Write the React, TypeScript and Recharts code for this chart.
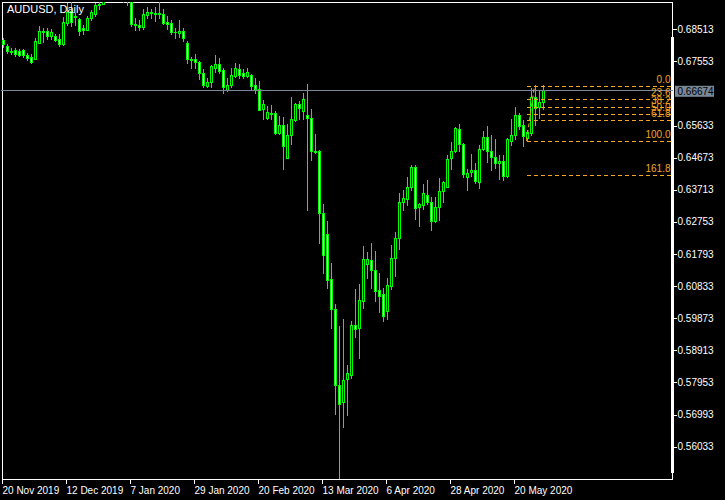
import React from 'react';
import { ComposedChart, Bar, XAxis, YAxis, ReferenceLine } from 'recharts';

// AUDUSD daily bars, 20 Nov 2019 .. 29 May 2020
const opens = [
  0.6819, 0.6799, 0.6784, 0.6787, 0.6786, 0.6787, 0.6774, 0.6768, 0.6763, 0.6811,
  0.6845, 0.6844, 0.6829, 0.6831, 0.6821, 0.6806, 0.6869, 0.6904, 0.6886, 0.6882,
  0.6854, 0.6849, 0.6882, 0.6894, 0.6923, 0.6926, 0.6950, 0.6982, 0.6998, 0.7019,
  0.6988, 0.6955, 0.6940, 0.6865, 0.6864, 0.6857, 0.6894, 0.6902, 0.6900, 0.6899,
  0.6897, 0.6873, 0.6869, 0.6842, 0.6839, 0.6846, 0.6809, 0.6761, 0.6760, 0.6751,
  0.6720, 0.6680, 0.6690, 0.6733, 0.6745, 0.6727, 0.6667, 0.6682, 0.6710, 0.6732,
  0.6718, 0.6710, 0.6712, 0.6682, 0.6672, 0.6610, 0.6583, 0.6601, 0.6600, 0.6540,
  0.6565, 0.6467, 0.6533, 0.6578, 0.6625, 0.6605, 0.6595, 0.6585, 0.6487, 0.6487,
  0.6301, 0.6239, 0.6102, 0.6012, 0.5785, 0.5733, 0.5803, 0.5818, 0.5965, 0.5954,
  0.6037, 0.6149, 0.6159, 0.6130, 0.6069, 0.6057, 0.6007, 0.6082, 0.6167, 0.6226,
  0.6333, 0.6344, 0.6379, 0.6439, 0.6316, 0.6326, 0.6354, 0.6334, 0.6276, 0.6319,
  0.6366, 0.6379, 0.6463, 0.6485, 0.6552, 0.6508, 0.6409, 0.6421, 0.6428, 0.6394,
  0.6493, 0.6528, 0.6487, 0.6469, 0.6451, 0.6457, 0.6413, 0.6517, 0.6535, 0.6595,
  0.6565, 0.6525, 0.6540, 0.6648, 0.6618, 0.6633,
];
const highs = [
  0.6825, 0.6806, 0.6794, 0.6794, 0.6792, 0.6792, 0.6780, 0.6777, 0.6824, 0.6861,
  0.6854, 0.6854, 0.6851, 0.6837, 0.6836, 0.6887, 0.6929, 0.6945, 0.6899, 0.6884,
  0.6864, 0.6889, 0.6906, 0.6929, 0.6931, 0.6955, 0.6990, 0.7005, 0.7032, 0.7031,
  0.6995, 0.6972, 0.6955, 0.6884, 0.6879, 0.6909, 0.6917, 0.6909, 0.6917, 0.6931,
  0.6909, 0.6889, 0.6879, 0.6854, 0.6879, 0.6854, 0.6816, 0.6768, 0.6777, 0.6754,
  0.6730, 0.6705, 0.6742, 0.6774, 0.6765, 0.6735, 0.6705, 0.6735, 0.6750, 0.6745,
  0.6730, 0.6733, 0.6717, 0.6705, 0.6695, 0.6638, 0.6620, 0.6622, 0.6605, 0.6592,
  0.6588, 0.6568, 0.6647, 0.6628, 0.6635, 0.6658, 0.6685, 0.6612, 0.6538, 0.6490,
  0.6326, 0.6278, 0.6150, 0.6027, 0.5964, 0.5985, 0.5846, 0.5979, 0.6072, 0.6087,
  0.6201, 0.6183, 0.6211, 0.6186, 0.6120, 0.6075, 0.6105, 0.6206, 0.6244, 0.6361,
  0.6368, 0.6409, 0.6443, 0.6443, 0.6331, 0.6386, 0.6398, 0.6348, 0.6349, 0.6406,
  0.6396, 0.6473, 0.6513, 0.6558, 0.6568, 0.6510, 0.6433, 0.6476, 0.6451, 0.6505,
  0.6547, 0.6562, 0.6535, 0.6522, 0.6473, 0.6473, 0.6525, 0.6582, 0.6617, 0.6600,
  0.6580, 0.6550, 0.6675, 0.6682, 0.6665, 0.6682,
];
const lows = [
  0.6798, 0.6780, 0.6777, 0.6769, 0.6769, 0.6768, 0.6757, 0.6750, 0.6760, 0.6809,
  0.6811, 0.6821, 0.6821, 0.6816, 0.6799, 0.6802, 0.6864, 0.6861, 0.6862, 0.6834,
  0.6835, 0.6847, 0.6877, 0.6889, 0.6911, 0.6924, 0.6945, 0.6968, 0.6985, 0.6980,
  0.6930, 0.6921, 0.6859, 0.6847, 0.6847, 0.6851, 0.6884, 0.6884, 0.6874, 0.6884,
  0.6867, 0.6851, 0.6837, 0.6824, 0.6828, 0.6814, 0.6750, 0.6735, 0.6735, 0.6700,
  0.6678, 0.6678, 0.6678, 0.6722, 0.6720, 0.6660, 0.6665, 0.6678, 0.6708, 0.6703,
  0.6705, 0.6708, 0.6670, 0.6660, 0.6608, 0.6583, 0.6581, 0.6583, 0.6538, 0.6538,
  0.6431, 0.6466, 0.6508, 0.6575, 0.6582, 0.6582, 0.6309, 0.6458, 0.6481, 0.6211,
  0.6122, 0.6077, 0.5957, 0.5700, 0.5507, 0.5660, 0.5696, 0.5806, 0.5929, 0.5866,
  0.6017, 0.6107, 0.6075, 0.6037, 0.6004, 0.5977, 0.5984, 0.6072, 0.6112, 0.6193,
  0.6309, 0.6324, 0.6369, 0.6283, 0.6261, 0.6313, 0.6326, 0.6249, 0.6273, 0.6279,
  0.6333, 0.6377, 0.6431, 0.6482, 0.6487, 0.6408, 0.6369, 0.6412, 0.6391, 0.6374,
  0.6488, 0.6452, 0.6429, 0.6434, 0.6403, 0.6399, 0.6409, 0.6505, 0.6522, 0.6552,
  0.6502, 0.6516, 0.6535, 0.6565, 0.6585, 0.6610,
];
const closes = [
  0.6807, 0.6783, 0.6782, 0.6774, 0.6774, 0.6772, 0.6765, 0.6753, 0.6816, 0.6846,
  0.6842, 0.6829, 0.6841, 0.6819, 0.6806, 0.6872, 0.6901, 0.6871, 0.6889, 0.6847,
  0.6849, 0.6884, 0.6901, 0.6921, 0.6925, 0.6950, 0.6982, 0.6998, 0.7019, 0.6988,
  0.6958, 0.6940, 0.6866, 0.6867, 0.6857, 0.6897, 0.6902, 0.6900, 0.6898, 0.6896,
  0.6869, 0.6868, 0.6841, 0.6841, 0.6846, 0.6824, 0.6760, 0.6759, 0.6751, 0.6718,
  0.6683, 0.6692, 0.6739, 0.6745, 0.6725, 0.6675, 0.6683, 0.6712, 0.6735, 0.6715,
  0.6710, 0.6722, 0.6680, 0.6670, 0.6610, 0.6625, 0.6602, 0.6599, 0.6540, 0.6565,
  0.6503, 0.6535, 0.6582, 0.6625, 0.6612, 0.6642, 0.6585, 0.6485, 0.6485, 0.6301,
  0.6174, 0.6102, 0.6012, 0.5785, 0.5728, 0.5800, 0.5821, 0.5967, 0.5952, 0.6039,
  0.6164, 0.6164, 0.6130, 0.6067, 0.6052, 0.5992, 0.6084, 0.6167, 0.6226, 0.6334,
  0.6344, 0.6379, 0.6439, 0.6316, 0.6326, 0.6361, 0.6334, 0.6278, 0.6319, 0.6366,
  0.6394, 0.6463, 0.6485, 0.6555, 0.6507, 0.6418, 0.6421, 0.6428, 0.6394, 0.6493,
  0.6528, 0.6487, 0.6469, 0.6451, 0.6457, 0.6413, 0.6523, 0.6535, 0.6595, 0.6563,
  0.6532, 0.6542, 0.6648, 0.6615, 0.6633, 0.66674,
];

const dateLabels = [
  '20 Nov 2019', '12 Dec 2019', '7 Jan 2020', '29 Jan 2020', '20 Feb 2020',
  '13 Mar 2020', '6 Apr 2020', '28 Apr 2020', '20 May 2020',
];
const barsPerLabel = 16;
const totalSlots = 168; // includes empty space on the right (chart shift)

const priceTicks = [
  0.68513, 0.67553, 0.65633, 0.64673, 0.63713, 0.62753, 0.61793,
  0.60833, 0.59873, 0.58913, 0.57953, 0.56993, 0.56033,
];
const priceDomain = [0.55067, 0.69329];

// Fibonacci retracement
const fibHigh = 0.6682;
const fibLow = 0.6517;
const fibFromBar = 131;
const fibToBar = 133;
const fibLevels = [0, 23.6, 38.2, 50, 61.8, 100, 161.8];

const FONT = "'Liberation Sans', Arial, sans-serif";
const CANDLE = '#00ff00';
const FIB = '#f5a623';
const BID = '#778899';

const data = Array.from({ length: totalSlots }, (_, i) =>
  i < closes.length
    ? { i, o: opens[i], h: highs[i], l: lows[i], c: closes[i], range: [lows[i], highs[i]] }
    : { i }
);

const bid = closes[closes.length - 1];

const Candle = (props: any) => {
  const { x, y, width, height, payload } = props;
  if (!payload || payload.o == null) return null;
  const { o, h, l, c } = payload;
  const top = Math.min(y, y + height);
  const bottom = Math.max(y, y + height);
  const k = (bottom - top) / (h - l);
  const py = (v: number) => top + (h - v) * k;
  const cx = Math.floor(x + width / 2) + 0.5;
  const bTop = py(Math.max(o, c));
  const bBot = py(Math.min(o, c));
  const bull = c >= o;
  const yt = Math.floor(bTop) + 0.5;
  const bh = Math.round(bBot - bTop);
  return (
    <g shapeRendering="crispEdges">
      <line x1={cx} x2={cx} y1={Math.floor(py(h))} y2={Math.ceil(py(l))} stroke={CANDLE} />
      {bh < 1 ? (
        <line x1={cx - 1.5} x2={cx + 1.5} y1={yt} y2={yt} stroke={CANDLE} />
      ) : (
        <rect x={cx - 1} y={yt} width={2} height={bh} fill={bull ? '#000' : '#fff'} stroke={CANDLE} />
      )}
    </g>
  );
};

const PriceTick = (props: any) => {
  const { x, y, payload } = props;
  return (
    <g>
      <line x1={x} x2={x + 4} y1={Math.round(y) + 0.5} y2={Math.round(y) + 0.5} stroke="#fff" shapeRendering="crispEdges" />
      <text x={x + 5} y={y + 3.5} fill="#fff" fontSize={10} fontFamily={FONT}>
        {payload.value.toFixed(5)}
      </text>
    </g>
  );
};

const DateTick = (props: any) => {
  const { x, y, payload } = props;
  const idx = payload.value;
  if (idx % barsPerLabel !== 0 || !dateLabels[idx / barsPerLabel]) return <g />;
  return (
    <g>
      <line x1={x} x2={x} y1={y} y2={y + 5} stroke="#fff" shapeRendering="crispEdges" />
      <text x={x} y={y + 15} fill="#fff" fontSize={10} fontFamily={FONT}>
        {dateLabels[idx / barsPerLabel]}
      </text>
    </g>
  );
};

const fibLabel = (text: string) => (props: any) => {
  const vb = props.viewBox;
  return (
    <text x={vb.x + vb.width} y={vb.y - 3} textAnchor="end" fill={FIB} fontSize={10} fontFamily={FONT}>
      {text}
    </text>
  );
};

const fibLine = (props: any) => (
  <line
    x1={props.x1}
    y1={Math.round(props.y1) + 0.5}
    x2={props.x2 + 1.5}
    y2={Math.round(props.y2) + 0.5}
    stroke={FIB}
    strokeWidth={1}
    strokeDasharray="4 3"
    shapeRendering="crispEdges"
  />
);

const fibTrend = (props: any) => (
  <line x1={props.x1} y1={props.y1} x2={props.x2} y2={props.y2} stroke={FIB} strokeWidth={1} strokeDasharray="4 3" />
);

const bidLabel = (props: any) => {
  const vb = props.viewBox;
  const x = vb.x + vb.width;
  return (
    <g>
      <rect x={x + 2.5} y={vb.y - 5} width={39} height={11} fill={BID} />
      <text x={x + 5} y={vb.y + 4} fill="#000" fontSize={10} fontFamily={FONT}>
        {bid.toFixed(5)}
      </text>
    </g>
  );
};

export default function App() {
  return (
    <div style={{ position: 'fixed', left: 0, top: 0, width: 725, height: 500, background: '#000', overflow: 'hidden' }}>
      <svg width={725} height={500} style={{ position: 'absolute', left: 0, top: 0 }}>
        <rect x={2.5} y={2.5} width={670} height={477} fill="none" stroke="#fff" shapeRendering="crispEdges" />
        <rect x={671} y={37} width={3} height={436} fill="#fff" />
      </svg>
      <div style={{ position: 'absolute', left: 0, top: 0 }}>
        <ComposedChart width={725} height={500} data={data} margin={{ top: 2, right: 0, bottom: 0, left: 0.5 }}>
          <XAxis
            dataKey="i"
            type="category"
            interval={0}
            height={21}
            axisLine={false}
            tickLine={false}
            tickSize={0}
            tickMargin={0}
            tick={<DateTick />}
          />
          <YAxis
            orientation="right"
            type="number"
            width={52.5}
            domain={priceDomain}
            allowDataOverflow
            ticks={priceTicks}
            axisLine={false}
            tickLine={false}
            tickSize={0}
            tickMargin={0}
            tick={<PriceTick />}
          />
          <ReferenceLine y={bid} stroke={BID} shapeRendering="crispEdges" label={bidLabel} />
          <Bar dataKey="range" barSize={3} shape={<Candle />} isAnimationActive={false} />
          {fibLevels.map((lv) => {
            const p = fibHigh - (lv / 100) * (fibHigh - fibLow);
            return (
              <ReferenceLine
                key={lv}
                segment={[{ x: fibFromBar, y: p }, { x: totalSlots - 1, y: p }]}
                stroke={FIB}
                shape={fibLine}
                label={fibLabel(lv.toFixed(1))}
              />
            );
          })}
          <ReferenceLine
            segment={[{ x: fibFromBar, y: fibLow }, { x: fibToBar, y: fibHigh }]}
            stroke={FIB}
            shape={fibTrend}
          />
        </ComposedChart>
      </div>
      <svg width={200} height={20} style={{ position: 'absolute', left: 0, top: 0 }}>
        <text x={7} y={13} fill="#fff" fontSize={11} fontFamily={FONT}>AUDUSD, Daily</text>
      </svg>
    </div>
  );
}
